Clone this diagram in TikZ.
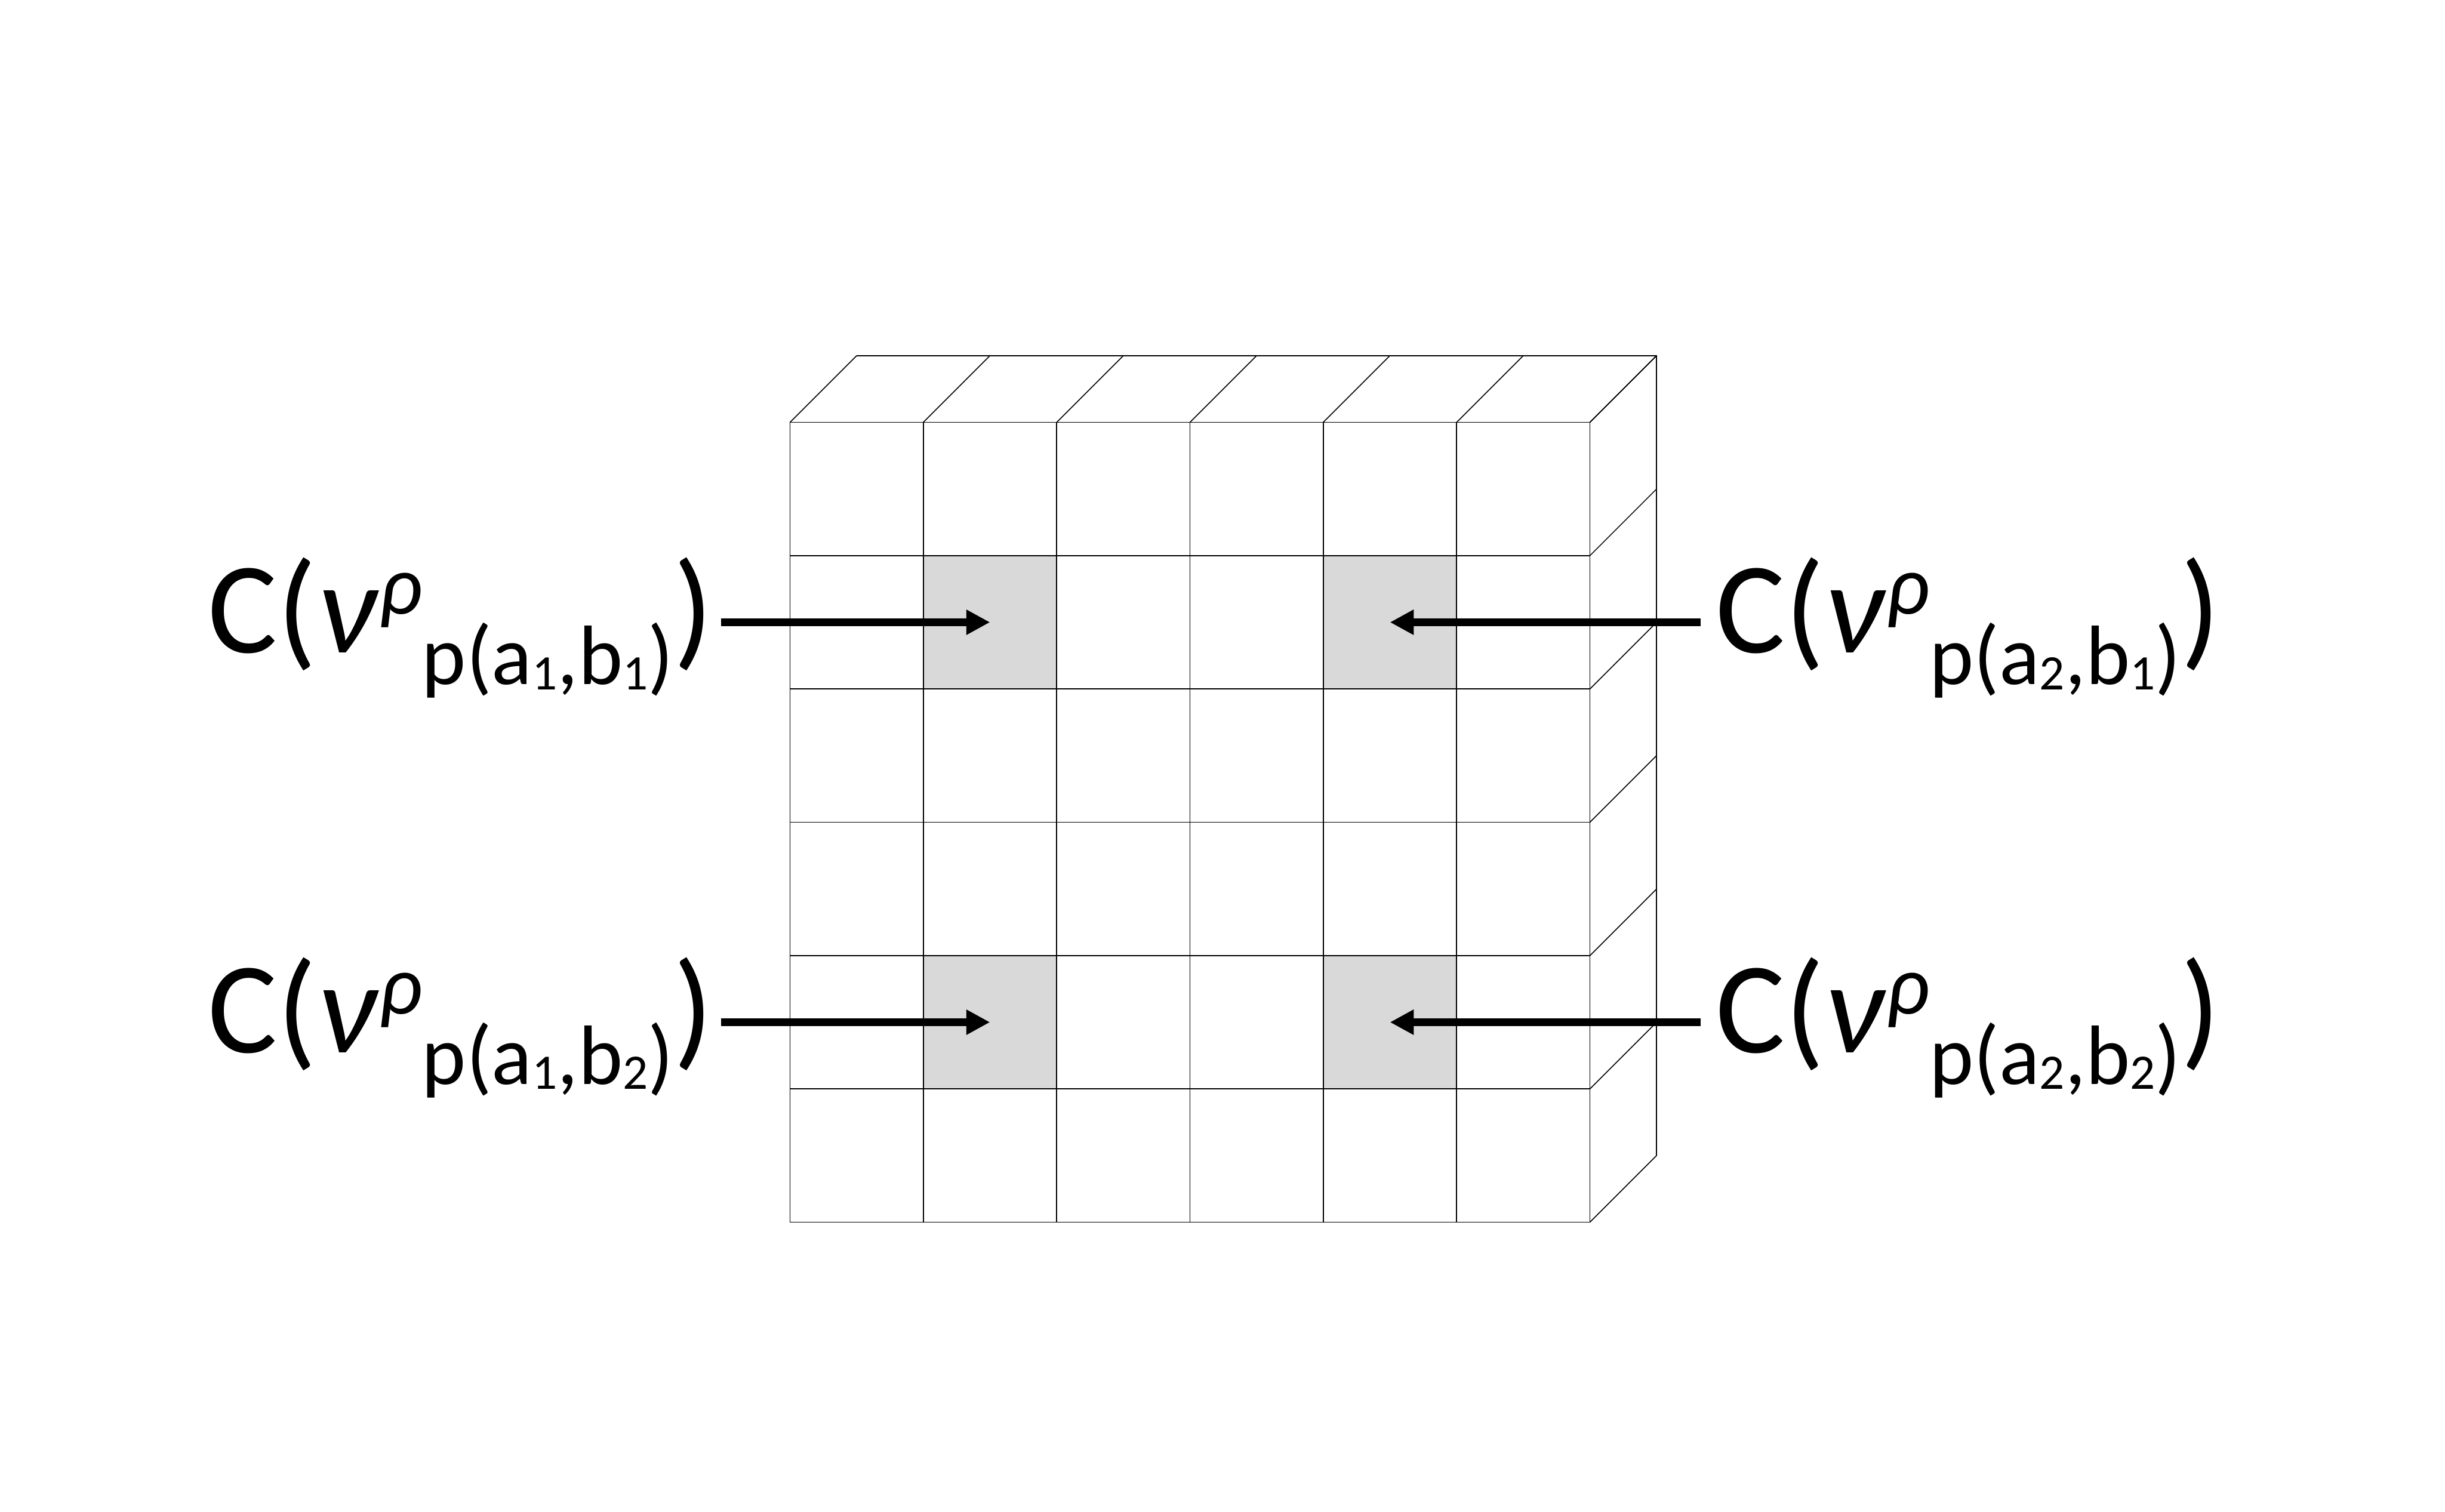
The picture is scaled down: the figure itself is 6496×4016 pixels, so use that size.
\documentclass[tikz,border=0pt]{standalone}
\usepackage{fontspec}
\setmainfont{Carlito}
\usetikzlibrary{arrows.meta}
\definecolor{cellgray}{HTML}{D9D9D9}
\newcommand{\mainsz}{\fontsize{34.6pt}{40pt}\selectfont}
\newcommand{\subsz}{\fontsize{22.4pt}{26pt}\selectfont}
\newcommand{\digsz}{\fontsize{13.2pt}{15pt}\selectfont}
\newcommand{\cvlabel}[2]{\mainsz C(\textit{ν}\raisebox{10.4pt}{\subsz\textit{ρ}}\raisebox{-8.4pt}{\subsz p(a\raisebox{-1.3pt}{\digsz #1},b\raisebox{-1.3pt}{\digsz #2})})}
\begin{document}
\begin{tikzpicture}[x=0.1pt,y=-0.1pt,
  gridline/.style={line width=0.25pt, black},
  cellnode/.style={draw=none, fill=cellgray, minimum width=35.42pt, minimum height=35.42pt, inner sep=0pt, outer sep=0pt},
  lbl/.style={inner sep=0pt, outer sep=0pt, anchor=base west},
  arr/.style={line width=2pt, -{Triangle[length=6.3pt,width=6.3pt]}}]
\useasboundingbox (0,0) rectangle (6496,4016);
% shaded cells
\node[cellnode] (c11) at (2630.3,1653.3) {};
\node[cellnode] (c41) at (3692.9,1653.3) {};
\node[cellnode] (c14) at (2630.3,2715.9) {};
\node[cellnode] (c44) at (3692.9,2715.9) {};
% grid, top face and right face
\foreach \i in {0,...,6} {
  \draw[gridline] ({2099+\i*354.2},1122) -- ({2099+\i*354.2},3247.2);
  \draw[gridline] (2099,{1122+\i*354.2}) -- (4224.2,{1122+\i*354.2});
  \draw[gridline] ({2099+\i*354.2},1122) -- ({2099+\i*354.2+177},945);
  \draw[gridline] (4224.2,{1122+\i*354.2}) -- (4401.2,{1122+\i*354.2-177});
}
\draw[gridline] (2276,945) -- (4401.2,945) -- (4401.2,3070.2);
% labels
\node[lbl] (L1) at (553,1735) {\cvlabel{1}{1}};
\node[lbl] (L2) at (4558,1735) {\cvlabel{2}{1}};
\node[lbl] (L3) at (553,2797) {\cvlabel{1}{2}};
\node[lbl] (L4) at (4558,2797) {\cvlabel{2}{2}};
% arrows
\draw[arr] ([xshift=2.1pt]L1.east |- c11.center) -- (c11.center);
\draw[arr] ([xshift=-3.9pt]L2.west |- c41.center) -- (c41.center);
\draw[arr] ([xshift=2.1pt]L3.east |- c14.center) -- (c14.center);
\draw[arr] ([xshift=-3.9pt]L4.west |- c44.center) -- (c44.center);
\end{tikzpicture}
\end{document}
